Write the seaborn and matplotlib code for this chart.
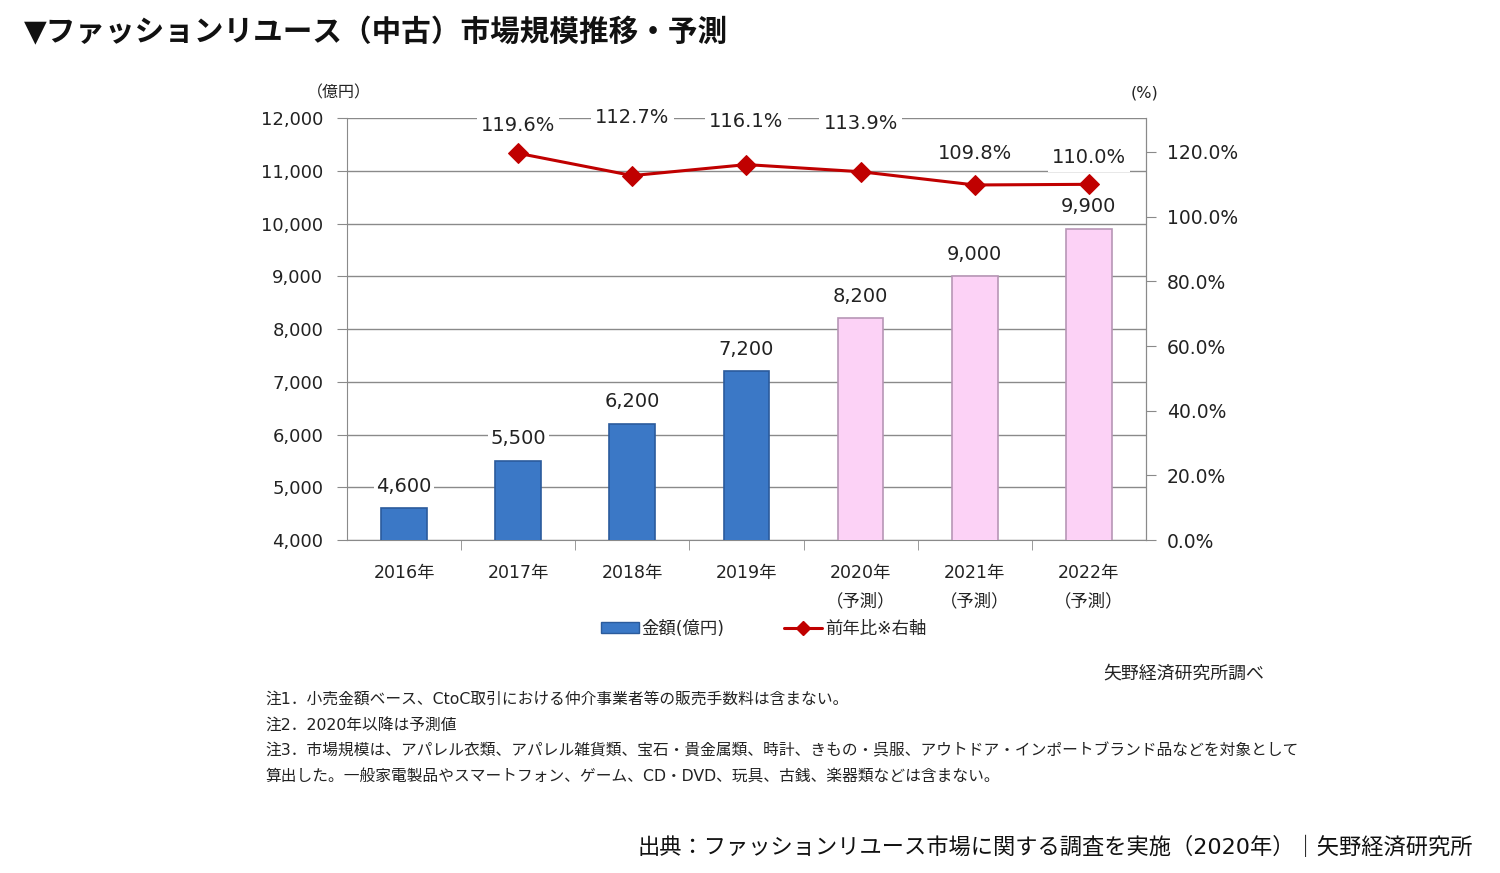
import matplotlib
matplotlib.use('Agg')
import matplotlib.pyplot as plt
import seaborn as sns
from matplotlib.patches import Patch
from matplotlib.lines import Line2D
from matplotlib.ticker import FuncFormatter, FixedLocator

# data
years = ['2016年', '2017年', '2018年', '2019年', '2020年\n（予測）', '2021年\n（予測）', '2022年\n（予測）']
market = [4600, 5500, 6200, 7200, 8200, 9000, 9900]
ratio_years = [1, 2, 3, 4, 5, 6]
ratio = [119.6, 112.7, 116.1, 113.9, 109.8, 110.0]
label_dy = [20, 42, 31, 35, 23, 19]  # label lift in points, as placed in the original

notes = [
    '注1．小売金額ベース、CtoC取引における仲介事業者等の販売手数料は含まない。',
    '注2．2020年以降は予測値',
    '注3．市場規模は、アパレル衣類、アパレル雑貨類、宝石・貴金属類、時計、きもの・呉服、アウトドア・インポートブランド品などを対象として',
    '算出した。一般家電製品やスマートフォン、ゲーム、CD・DVD、玩具、古銭、楽器類などは含まない。',
]

sns.set_style('white')
plt.rcParams['font.family'] = ['DejaVu Sans', 'Noto Sans CJK JP']

blue = '#3b78c6'
pink = '#fcd2f6'
bar_colors = [blue] * 4 + [pink] * 3
edge_colors = ['#2b5b9c'] * 4 + ['#b796b6'] * 3
grid_c = '#8a8a8a'
txt = '#222222'

fig = plt.figure(figsize=(15, 8.73), dpi=100)
ax = fig.add_axes([0.2313, 0.3814, 0.5327, 0.4834])

sns.barplot(x=years, y=market, hue=years, palette=bar_colors, legend=False,
            width=0.4, ax=ax, saturation=1, zorder=3)
for p, ec in zip(ax.patches, edge_colors):
    p.set_edgecolor(ec)
    p.set_linewidth(1.2)

ax.set_ylim(4000, 12000)
ax.set_xlim(-0.5, 6.5)
ax.set_yticks(range(4000, 12001, 1000))
ax.yaxis.set_major_formatter(FuncFormatter(lambda v, _: f'{int(v):,}'))
ax.yaxis.grid(True, color=grid_c, lw=1)
ax.set_axisbelow(True)
ax.tick_params(axis='y', labelsize=13, colors=txt, length=7, color=grid_c, pad=10, left=True)
ax.tick_params(axis='x', labelsize=12.5, colors=txt, length=0, pad=17)
for lab in ax.get_xticklabels():
    lab.set_linespacing(1.75)
    lab.set_verticalalignment('top')
ax.xaxis.set_minor_locator(FixedLocator([i + 0.5 for i in range(6)]))
ax.tick_params(axis='x', which='minor', length=7, color=grid_c, bottom=True, direction='out')
for s in ['left', 'bottom', 'right']:
    ax.spines[s].set_color(grid_c)
ax.spines['top'].set_visible(False)

for i, v in enumerate(market):
    ax.annotate(f'{v:,}', (i, v), xytext=(0, 16), textcoords='offset points',
                ha='center', va='center', fontsize=14, color=txt, zorder=5,
                bbox=dict(facecolor='white', edgecolor='none', pad=2))

ax2 = ax.twinx()
sns.lineplot(x=ratio_years, y=ratio, ax=ax2, color='#c00000', lw=2.2,
             marker='D', markersize=10, markeredgecolor='#c00000', zorder=4)
ax2.set_ylim(0, 130.5)
ax2.set_yticks(range(0, 121, 20))
ax2.yaxis.set_major_formatter(FuncFormatter(lambda v, _: f'{v:.1f}%'))
ax2.tick_params(axis='y', labelsize=13.5, colors=txt, length=7, color=grid_c, pad=8, right=True)
for s in ['left', 'bottom', 'top']:
    ax2.spines[s].set_visible(False)
ax2.spines['right'].set_color(grid_c)
ax2.set_ylabel('')

for x, r, dy in zip(ratio_years, ratio, label_dy):
    ax2.annotate(f'{r:.1f}%', (x, r), xytext=(0, dy), textcoords='offset points',
                 ha='center', va='center', fontsize=14, color=txt,
                 bbox=dict(facecolor='white', edgecolor='none', pad=3))

fig.text(0.226, 0.894, '（億円）', fontsize=11.5, color=txt, ha='center', va='center')
fig.text(0.763, 0.894, '(%)', fontsize=11.5, color=txt, ha='center', va='center')

handles = [Patch(facecolor=blue, edgecolor='#2b5b9c'),
           Line2D([0], [0], color='#c00000', lw=2.2, marker='D', markersize=7)]
fig.legend(handles, ['金額(億円)', '前年比※右軸'], loc='center', ncol=2,
           bbox_to_anchor=(0.509, 0.2795), frameon=False, fontsize=12.5,
           handlelength=2.2, handleheight=0.6, handletextpad=0.15, columnspacing=3.4)

fig.text(0.016, 0.962, '▼ファッションリユース（中古）市場規模推移・予測', fontsize=21.3,
         fontweight='bold', color='#111111', ha='left', va='center')
fig.text(0.843, 0.229, '矢野経済研究所調べ', fontsize=12.9, color=txt, ha='right', va='center')
for k, line in enumerate(notes):
    fig.text(0.1767, 1 - (699 + 26 * k) / 873, line, fontsize=11.3, color=txt,
             ha='left', va='center')
fig.text(0.982, 1 - 847 / 873, '出典：ファッションリユース市場に関する調査を実施（2020年）｜矢野経済研究所',
         fontsize=16, color='#111111', ha='right', va='center')

fig.savefig('out.png', dpi=100)
